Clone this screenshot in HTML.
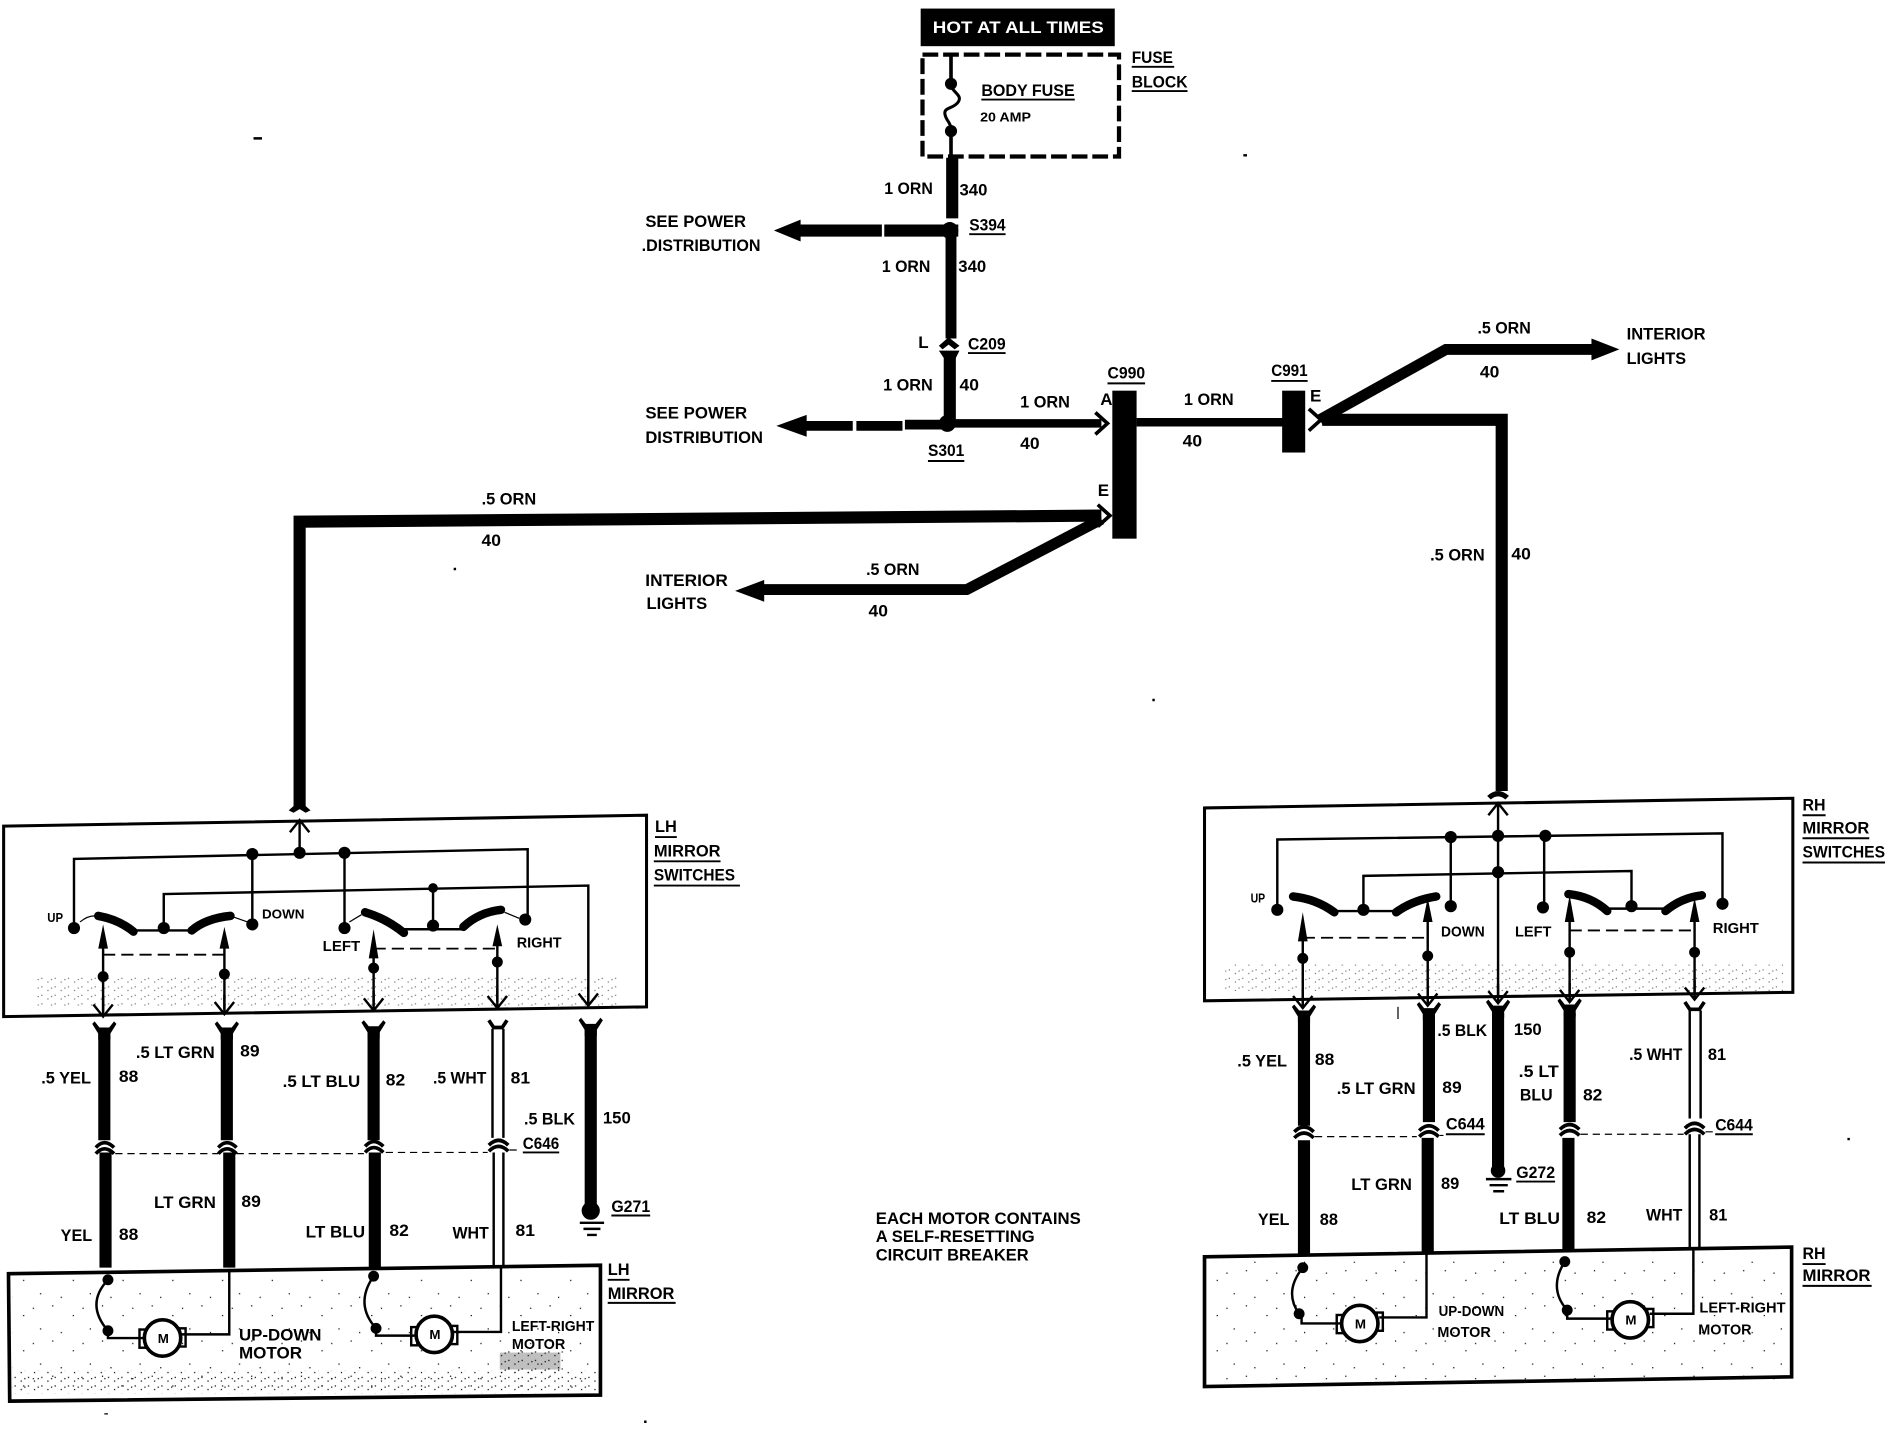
<!DOCTYPE html>
<html><head><meta charset="utf-8"><style>
html,body{margin:0;padding:0;background:#fff;width:1902px;height:1440px;overflow:hidden}
svg{display:block}
text{font-family:"Liberation Sans",sans-serif;font-weight:bold;font-size:14px;fill:#000}
.s{font-size:11px}
.th{fill:none;stroke:#000;stroke-width:2}
.w{fill:none;stroke:#000;stroke-width:10}
.w9{fill:none;stroke:#000;stroke-width:9}
.m{fill:none;stroke:#000;stroke-width:7}
.b{fill:none;stroke:#000;stroke-width:7;stroke-linecap:round}
.c{fill:none;stroke:#000;stroke-width:2}
.u{stroke:#000;stroke-width:1.6}
.d{fill:none;stroke:#000;stroke-width:1.5;stroke-dasharray:10 5}
.ar{fill:none;stroke:#000;stroke-width:3}
</style></head><body>
<svg width="1902" height="1440" viewBox="0 0 1568 1187" xmlns="http://www.w3.org/2000/svg">
<defs>
<pattern id="sp" width="41" height="29" patternUnits="userSpaceOnUse">
<rect x="2" y="3" width="1" height="1"/><rect x="19" y="11" width="1" height="1"/><rect x="33" y="22" width="1" height="1"/><rect x="9" y="25" width="1" height="1"/><rect x="27" y="5" width="1" height="1"/>
</pattern>
<pattern id="sp2" width="11" height="7" patternUnits="userSpaceOnUse">
<rect x="1" y="1" width="1" height="1"/><rect x="6" y="4" width="1" height="1"/><rect x="9" y="2" width="1" height="1"/>
</pattern>
<g id="ch"><path class="c" d="M-8,-8 L0,2 L8,-8 M0,2 V-14"/></g>
<g id="rc"><path d="M-8,-7 L-4,-2 H4 L8,-7 L10,-5 L5,3 V8 H-5 V3 L-10,-5Z"/></g>
</defs>

<!-- top -->
<rect x="759" y="7" width="160" height="31"/>
<text x="769" y="27" style="fill:#fff" textLength="141" lengthAdjust="spacingAndGlyphs">HOT AT ALL TIMES</text>
<rect x="760.500" y="45" width="162" height="84" fill="none" stroke="#000" stroke-width="3.500" stroke-dasharray="13 4"/>
<path class="th" style="stroke-width:3" d="M784,46 V66 M784,108 V130"/>
<path fill="none" stroke="#000" stroke-width="2.500" d="M784,69 C784,76 794,78 790,84 C786,90 778,88 779,94 C780,100 784,100 784,108"/>
<circle cx="784" cy="69" r="5"/><circle cx="784" cy="108" r="5"/>
<text x="809" y="79" textLength="77" lengthAdjust="spacingAndGlyphs">BODY FUSE</text><line class="u" x1="809" y1="82" x2="886" y2="82"/>
<text class="s" x="808" y="100" textLength="42" lengthAdjust="spacingAndGlyphs">20 AMP</text>
<text x="933" y="52" textLength="34" lengthAdjust="spacingAndGlyphs">FUSE</text><line class="u" x1="933" y1="55" x2="968" y2="55"/>
<text x="933" y="72" textLength="46" lengthAdjust="spacingAndGlyphs">BLOCK</text><line class="u" x1="933" y1="75" x2="979" y2="75"/>

<path class="w" d="M785,130 V180"/>
<path class="w" style="stroke-dasharray:70 2" d="M657,190 H790"/>
<path d="M638,190 L660,181 V199Z"/>
<circle cx="783" cy="190" r="7"/>
<path class="w9" d="M784,190 V279"/>
<text x="729" y="160" textLength="40" lengthAdjust="spacingAndGlyphs">1 ORN</text>
<text x="791" y="161" textLength="23" lengthAdjust="spacingAndGlyphs">340</text>
<text x="799" y="190" textLength="30" lengthAdjust="spacingAndGlyphs">S394</text><line class="u" x1="799" y1="193" x2="829" y2="193"/>
<text x="727" y="224" textLength="40" lengthAdjust="spacingAndGlyphs">1 ORN</text>
<text x="790" y="224" textLength="23" lengthAdjust="spacingAndGlyphs">340</text>
<text x="532" y="187" textLength="83" lengthAdjust="spacingAndGlyphs">SEE POWER</text>
<text x="529" y="207" textLength="98" lengthAdjust="spacingAndGlyphs">.DISTRIBUTION</text>

<path d="M774,285 L782,278 L791,285 L787,288 L782,284 L777,288Z"/>
<path d="M774,289 H791 L788,295 V349 H778 V295Z"/>
<text x="757" y="287" textLength="9">L</text>
<text x="798" y="288" textLength="31" lengthAdjust="spacingAndGlyphs">C209</text><line class="u" x1="798" y1="291" x2="829" y2="291"/>
<text x="728" y="322" textLength="41" lengthAdjust="spacingAndGlyphs">1 ORN</text>
<text x="791" y="322" textLength="16" lengthAdjust="spacingAndGlyphs">40</text>

<path stroke="#000" stroke-width="8" fill="none" d="M660,351 H703 M706,351 H744 M746,350 H782"/>
<path class="m" d="M780,349 H908"/>
<path d="M640,351 L665,342 V360Z"/>
<circle cx="781" cy="349" r="7"/>
<path class="ar" d="M903,340 L913,349 L903,358"/>
<text x="841" y="336" textLength="41" lengthAdjust="spacingAndGlyphs">1 ORN</text>
<text x="841" y="370" textLength="16" lengthAdjust="spacingAndGlyphs">40</text>
<text x="532" y="345" textLength="84" lengthAdjust="spacingAndGlyphs">SEE POWER</text>
<text x="532" y="365" textLength="97" lengthAdjust="spacingAndGlyphs">DISTRIBUTION</text>
<text x="765" y="376" textLength="30" lengthAdjust="spacingAndGlyphs">S301</text><line class="u" x1="765" y1="380" x2="795" y2="380"/>
<text x="907" y="334" textLength="9">A</text>

<rect x="917" y="322" width="20" height="122"/>
<text x="913" y="312" textLength="31" lengthAdjust="spacingAndGlyphs">C990</text><line class="u" x1="913" y1="316" x2="944" y2="316"/>
<path class="m" d="M937,348 H1058"/>
<text x="976" y="334" textLength="41" lengthAdjust="spacingAndGlyphs">1 ORN</text>
<text x="975" y="368" textLength="16" lengthAdjust="spacingAndGlyphs">40</text>
<rect x="1057" y="322" width="19" height="51"/>
<text x="1048" y="310" textLength="30" lengthAdjust="spacingAndGlyphs">C991</text><line class="u" x1="1048" y1="314" x2="1078" y2="314"/>
<text x="1080" y="331" textLength="9">E</text>
<path class="ar" d="M1079,337 L1089,346 L1079,355"/>
<path class="w" d="M1090,346 H1238 V652"/>
<path class="w9" d="M1088,346 L1192,288 H1320"/>
<path d="M1335,288 L1312,279 V297Z"/>
<text x="1218" y="275" textLength="44" lengthAdjust="spacingAndGlyphs">.5 ORN</text>
<text x="1220" y="311" textLength="16" lengthAdjust="spacingAndGlyphs">40</text>
<text x="1341" y="280" textLength="65" lengthAdjust="spacingAndGlyphs">INTERIOR</text>
<text x="1341" y="300" textLength="49" lengthAdjust="spacingAndGlyphs">LIGHTS</text>
<text x="1179" y="462" textLength="45" lengthAdjust="spacingAndGlyphs">.5 ORN</text>
<text x="1246" y="461" textLength="16" lengthAdjust="spacingAndGlyphs">40</text>

<text x="905" y="409" textLength="9">E</text>
<path class="ar" d="M905,416 L915,425 L905,434"/>
<path class="w" d="M908,425 L247,430 V665"/>
<path class="w9" d="M908,428 L797,486 H625"/>
<path d="M606,487 L630,478 V496Z"/>
<text x="397" y="416" textLength="45" lengthAdjust="spacingAndGlyphs">.5 ORN</text>
<text x="397" y="450" textLength="16" lengthAdjust="spacingAndGlyphs">40</text>
<text x="714" y="474" textLength="44" lengthAdjust="spacingAndGlyphs">.5 ORN</text>
<text x="716" y="508" textLength="16" lengthAdjust="spacingAndGlyphs">40</text>
<text x="532" y="483" textLength="68" lengthAdjust="spacingAndGlyphs">INTERIOR</text>
<text x="533" y="502" textLength="50" lengthAdjust="spacingAndGlyphs">LIGHTS</text>

<!-- LH switch box -->
<polygon points="3,681 533,672 533,830 3,838" fill="none" stroke="#000" stroke-width="2.500"/>
<rect x="30" y="805" width="480" height="24" fill="url(#sp2)" opacity=".55"/>
<path d="M238,668 L247,660 L256,668 L252,670 L247,667 L242,670Z"/>
<path class="c" d="M239,686 L247,676 L255,686 M247,676 V703"/>
<path class="th" d="M61,765 V708 L435,700 V758 M208,704 V762 M284,703 V765"/>
<path class="th" d="M135,765 V737 L485,730 V826 M357,732 V763"/>
<g>
<circle cx="208" cy="704" r="5"/><circle cx="247" cy="703" r="5"/><circle cx="284" cy="703" r="5"/><circle cx="357" cy="732" r="4"/>
<circle cx="61" cy="765" r="5"/><circle cx="135" cy="765" r="5"/><circle cx="208" cy="762" r="5"/><circle cx="284" cy="765" r="5"/><circle cx="357" cy="763" r="5"/><circle cx="433" cy="758" r="5"/>
</g>
<path class="b" d="M81,755 Q98,758 110,768"/><path class="b" d="M158,767 Q170,757 190,755"/>
<path class="b" d="M301,752 Q318,757 333,769"/><path class="b" d="M382,764 Q395,752 413,750"/>
<path class="th" d="M110,767 H158 M333,766 H382"/>
<path class="th" style="stroke-width:1" d="M66,760 Q72,755 78,755 M190,755 L204,760 M288,760 L298,754 M416,752 L428,757"/>
<path d="M85,762 L89,782 H81Z M185,764 L189,782 H181Z M308,766 L312,790 H304Z M410,762 L414,780 H406Z"/>
<path class="th" d="M85,780 V834 M185,780 V832 M308,780 V829 M410,770 V826"/>
<circle cx="85" cy="805" r="4.500"/><circle cx="185" cy="803" r="4.500"/><circle cx="308" cy="798" r="4.500"/><circle cx="410" cy="793" r="4.500"/>
<path class="d" d="M85,787 H185 M308,782 H410"/>
<use href="#ch" x="85" y="836"/><use href="#ch" x="185" y="834"/><use href="#ch" x="308" y="831"/><use href="#ch" x="410" y="829"/><use href="#ch" x="485" y="827"/>
<text class="s" x="39" y="760" textLength="13" lengthAdjust="spacingAndGlyphs">UP</text>
<text class="s" x="216" y="757" textLength="35" lengthAdjust="spacingAndGlyphs">DOWN</text>
<text x="266" y="784" style="font-size:12px" textLength="31" lengthAdjust="spacingAndGlyphs">LEFT</text>
<text x="426" y="781" style="font-size:12px" textLength="37" lengthAdjust="spacingAndGlyphs">RIGHT</text>
<text x="540" y="686" textLength="18" lengthAdjust="spacingAndGlyphs">LH</text><line class="u" x1="540" y1="690" x2="558" y2="690"/>
<text x="539" y="706" textLength="55" lengthAdjust="spacingAndGlyphs">MIRROR</text><line class="u" x1="539" y1="710" x2="594" y2="710"/>
<text x="539" y="726" textLength="67" lengthAdjust="spacingAndGlyphs">SWITCHES</text><line class="u" x1="539" y1="730" x2="610" y2="730"/>

<!-- LH wires -->
<path class="w" d="M86,848 V940 M187,848 V940 M308,848 V940 M487,848 V996 M87,950 V1045 M189,950 V1045 M309,950 V1045"/>
<use href="#rc" x="86" y="849"/><use href="#rc" x="187" y="849"/><use href="#rc" x="308" y="848"/><use href="#rc" x="487" y="846"/>
<path class="c" d="M406,848 V938 M415,848 V938 M407,950 V1044 M415,950 V1044"/>
<path class="c" style="stroke-width:3" d="M403,841 L407,847 H414 L418,841"/>
<g fill="none" stroke="#000" stroke-width="3">
<path d="M79,946 Q86,938 94,946 M79,951 Q86,943 94,951 M180,946 Q187,938 195,946 M180,951 Q187,943 195,951 M301,945 Q308,937 316,945 M301,950 Q308,942 316,950 M403,944 Q411,936 419,944 M403,949 Q411,941 419,949"/>
</g>
<path class="d" style="stroke-width:1;stroke-dasharray:6 4" d="M95,951 H180 M195,951 H300 M318,950 H402 M420,948 H430"/>
<circle cx="487" cy="998" r="7.500"/>
<path class="c" d="M478,1008 H498 M481,1013 H495 M484,1018 H492"/>
<text x="34" y="893" textLength="41" lengthAdjust="spacingAndGlyphs">.5 YEL</text><text x="98" y="892" textLength="16" lengthAdjust="spacingAndGlyphs">88</text>
<text x="112" y="872" textLength="65" lengthAdjust="spacingAndGlyphs">.5 LT GRN</text><text x="198" y="871" textLength="16" lengthAdjust="spacingAndGlyphs">89</text>
<text x="233" y="896" textLength="64" lengthAdjust="spacingAndGlyphs">.5 LT BLU</text><text x="318" y="895" textLength="16" lengthAdjust="spacingAndGlyphs">82</text>
<text x="357" y="893" textLength="44" lengthAdjust="spacingAndGlyphs">.5 WHT</text><text x="421" y="893" textLength="16" lengthAdjust="spacingAndGlyphs">81</text>
<text x="432" y="927" textLength="42" lengthAdjust="spacingAndGlyphs">.5 BLK</text><text x="497" y="926" textLength="23" lengthAdjust="spacingAndGlyphs">150</text>
<text x="431" y="947" textLength="30" lengthAdjust="spacingAndGlyphs">C646</text><line class="u" x1="431" y1="950" x2="461" y2="950"/>
<text x="504" y="999" textLength="32" lengthAdjust="spacingAndGlyphs">G271</text><line class="u" x1="504" y1="1002" x2="536" y2="1002"/>
<text x="50" y="1023" textLength="26" lengthAdjust="spacingAndGlyphs">YEL</text><text x="98" y="1022" textLength="16" lengthAdjust="spacingAndGlyphs">88</text>
<text x="127" y="996" textLength="51" lengthAdjust="spacingAndGlyphs">LT GRN</text><text x="199" y="995" textLength="16" lengthAdjust="spacingAndGlyphs">89</text>
<text x="252" y="1020" textLength="49" lengthAdjust="spacingAndGlyphs">LT BLU</text><text x="321" y="1019" textLength="16" lengthAdjust="spacingAndGlyphs">82</text>
<text x="373" y="1021" textLength="30" lengthAdjust="spacingAndGlyphs">WHT</text><text x="425" y="1019" textLength="16" lengthAdjust="spacingAndGlyphs">81</text>

<!-- LH mirror -->
<polygon points="7,1050 495,1043 495,1150 8,1155" fill="none" stroke="#000" stroke-width="3"/>
<rect x="10" y="1053" width="482" height="95" fill="url(#sp)"/>
<rect x="10" y="1130" width="482" height="19" fill="url(#sp2)"/>
<rect x="412" y="1112" width="52" height="20" fill="url(#sp2)"/>
<rect x="412" y="1115" width="50" height="14" fill="#000" opacity=".25"/>
<path class="th" d="M189,1046 V1100 H150 M118,1103 H89 V1097"/>
<path class="th" d="M89,1055 Q70,1075 89,1097"/>
<circle cx="89" cy="1055" r="4.500"/><circle cx="89" cy="1097" r="4.500"/>
<rect x="115" y="1096" width="5" height="15" fill="none" stroke="#000" stroke-width="2"/><rect x="148" y="1095" width="5" height="15" fill="none" stroke="#000" stroke-width="2"/>
<circle cx="134" cy="1103" r="15" fill="#fff" stroke="#000" stroke-width="3"/>
<text class="s" x="130" y="1107" textLength="9">M</text>
<path class="th" d="M413,1044 V1098 H372 M342,1101 H310 V1095"/>
<path class="th" d="M308,1052 Q292,1075 310,1095"/>
<circle cx="308" cy="1052" r="4.500"/><circle cx="310" cy="1095" r="4.500"/>
<rect x="339" y="1094" width="5" height="15" fill="none" stroke="#000" stroke-width="2"/><rect x="372" y="1093" width="5" height="15" fill="none" stroke="#000" stroke-width="2"/>
<circle cx="358" cy="1100" r="15" fill="#fff" stroke="#000" stroke-width="3"/>
<text class="s" x="354" y="1104" textLength="9">M</text>
<text x="197" y="1105" textLength="68" lengthAdjust="spacingAndGlyphs">UP-DOWN</text>
<text x="197" y="1120" textLength="52" lengthAdjust="spacingAndGlyphs">MOTOR</text>
<text x="422" y="1097" style="font-size:12px" textLength="68" lengthAdjust="spacingAndGlyphs">LEFT-RIGHT</text>
<text x="422" y="1112" style="font-size:12px" textLength="44" lengthAdjust="spacingAndGlyphs">MOTOR</text>
<text x="501" y="1051" textLength="18" lengthAdjust="spacingAndGlyphs">LH</text><line class="u" x1="501" y1="1055" x2="519" y2="1055"/>
<text x="501" y="1071" textLength="55" lengthAdjust="spacingAndGlyphs">MIRROR</text><line class="u" x1="501" y1="1074" x2="557" y2="1074"/>

<text x="722" y="1009" textLength="169" lengthAdjust="spacingAndGlyphs">EACH MOTOR CONTAINS</text>
<text x="722" y="1024" textLength="131" lengthAdjust="spacingAndGlyphs">A SELF-RESETTING</text>
<text x="722" y="1039" textLength="126" lengthAdjust="spacingAndGlyphs">CIRCUIT BREAKER</text>

<!-- RH switch box -->
<polygon points="993,666 1478,658 1478,818 993,825" fill="none" stroke="#000" stroke-width="2.500"/>
<rect x="1010" y="795" width="460" height="22" fill="url(#sp2)" opacity=".55"/>
<path d="M1226,656 Q1235,648 1244,656 L1241,659 Q1235,654 1229,659Z"/>
<path class="c" d="M1227,672 L1235,662 L1243,672 M1235,662 V822"/>
<path class="th" d="M1053,750 V692 L1420,687 V745 M1196,690 V747 M1273,689 V748"/>
<path class="th" d="M1124,750 V722 L1345,718 V747"/>
<circle cx="1196" cy="690" r="5"/><circle cx="1235" cy="689" r="5"/><circle cx="1274" cy="689" r="5"/><circle cx="1235" cy="719" r="5"/>
<circle cx="1053" cy="750" r="5"/><circle cx="1124" cy="750" r="5"/><circle cx="1196" cy="747" r="5"/><circle cx="1272" cy="748" r="5"/><circle cx="1345" cy="747" r="5"/><circle cx="1420" cy="745" r="5"/>
<path class="b" d="M1066,739 Q1085,741 1100,752"/><path class="b" d="M1151,752 Q1165,742 1184,739"/>
<path class="b" d="M1293,737 Q1312,739 1325,751"/><path class="b" d="M1373,751 Q1386,740 1403,738"/>
<path class="th" d="M1100,751 H1151 M1325,749 H1373"/>
<path d="M1074,752 L1078,776 H1070Z M1177,740 L1181,760 H1173Z M1294,738 L1298,760 H1290Z M1397,740 L1401,760 H1393Z"/>
<path class="th" d="M1074,770 V828 M1177,755 V826 M1294,755 V823 M1397,755 V821"/>
<circle cx="1074" cy="790" r="4.500"/><circle cx="1177" cy="788" r="4.500"/><circle cx="1294" cy="785" r="4.500"/><circle cx="1397" cy="785" r="4.500"/>
<path class="d" d="M1074,773 H1177 M1294,767 H1397"/>
<use href="#ch" x="1074" y="829"/><use href="#ch" x="1177" y="827"/><use href="#ch" x="1235" y="825"/><use href="#ch" x="1294" y="824"/><use href="#ch" x="1397" y="822"/>
<text class="s" x="1031" y="744" textLength="12" lengthAdjust="spacingAndGlyphs">UP</text>
<text x="1188" y="772" style="font-size:12px" textLength="36" lengthAdjust="spacingAndGlyphs">DOWN</text>
<text x="1249" y="772" style="font-size:12px" textLength="30" lengthAdjust="spacingAndGlyphs">LEFT</text>
<text x="1412" y="769" style="font-size:12px" textLength="38" lengthAdjust="spacingAndGlyphs">RIGHT</text>
<text x="1486" y="668" textLength="19" lengthAdjust="spacingAndGlyphs">RH</text><line class="u" x1="1486" y1="672" x2="1505" y2="672"/>
<text x="1486" y="687" textLength="55" lengthAdjust="spacingAndGlyphs">MIRROR</text><line class="u" x1="1486" y1="691" x2="1541" y2="691"/>
<text x="1486" y="707" textLength="68" lengthAdjust="spacingAndGlyphs">SWITCHES</text><line class="u" x1="1486" y1="711" x2="1554" y2="711"/>

<!-- RH wires -->
<path class="w" d="M1075,835 V928 M1178,835 V925 M1235,835 V962 M1294,835 V925 M1075,940 V1034 M1177,938 V1032 M1293,938 V1031"/>
<use href="#rc" x="1075" y="835"/><use href="#rc" x="1178" y="833"/><use href="#rc" x="1235" y="831"/><use href="#rc" x="1294" y="830"/>
<path class="c" d="M1393,833 V922 M1402,833 V922 M1393,935 V1030 M1401,935 V1030"/>
<path class="c" style="stroke-width:3" d="M1389,826 L1393,832 H1401 L1405,826"/>
<g fill="none" stroke="#000" stroke-width="3">
<path d="M1067,933 Q1075,925 1083,933 M1067,938 Q1075,930 1083,938 M1170,932 Q1178,924 1186,932 M1170,937 Q1178,929 1186,937 M1286,931 Q1294,923 1302,931 M1286,936 Q1294,928 1302,936 M1389,930 Q1397,922 1405,930 M1389,935 Q1397,927 1405,935"/>
</g>
<path class="d" style="stroke-width:1;stroke-dasharray:6 4" d="M1084,937 H1168 M1187,936 H1190 M1303,935 H1388 M1406,933 H1413"/>
<circle cx="1235" cy="965" r="6"/>
<path class="c" d="M1225,972 H1246 M1228,977 H1243 M1231,982 H1240"/>
<text x="1020" y="879" textLength="41" lengthAdjust="spacingAndGlyphs">.5 YEL</text><text x="1084" y="878" textLength="16" lengthAdjust="spacingAndGlyphs">88</text>
<text x="1102" y="902" textLength="65" lengthAdjust="spacingAndGlyphs">.5 LT GRN</text><text x="1189" y="901" textLength="16" lengthAdjust="spacingAndGlyphs">89</text>
<text x="1185" y="854" textLength="41" lengthAdjust="spacingAndGlyphs">.5 BLK</text><text x="1248" y="853" textLength="23" lengthAdjust="spacingAndGlyphs">150</text>
<text x="1252" y="888" textLength="33" lengthAdjust="spacingAndGlyphs">.5 LT</text><text x="1253" y="907" textLength="27" lengthAdjust="spacingAndGlyphs">BLU</text><text x="1305" y="907" textLength="16" lengthAdjust="spacingAndGlyphs">82</text>
<text x="1343" y="874" textLength="44" lengthAdjust="spacingAndGlyphs">.5 WHT</text><text x="1408" y="874" textLength="15" lengthAdjust="spacingAndGlyphs">81</text>
<text x="1192" y="931" textLength="32" lengthAdjust="spacingAndGlyphs">C644</text><line class="u" x1="1192" y1="935" x2="1224" y2="935"/>
<text x="1414" y="932" textLength="31" lengthAdjust="spacingAndGlyphs">C644</text><line class="u" x1="1414" y1="935" x2="1445" y2="935"/>
<text x="1250" y="971" textLength="32" lengthAdjust="spacingAndGlyphs">G272</text><line class="u" x1="1250" y1="974" x2="1282" y2="974"/>
<text x="1114" y="981" textLength="50" lengthAdjust="spacingAndGlyphs">LT GRN</text><text x="1188" y="980" textLength="15" lengthAdjust="spacingAndGlyphs">89</text>
<text x="1037" y="1010" textLength="26" lengthAdjust="spacingAndGlyphs">YEL</text><text x="1088" y="1010" textLength="15" lengthAdjust="spacingAndGlyphs">88</text>
<text x="1236" y="1009" textLength="50" lengthAdjust="spacingAndGlyphs">LT BLU</text><text x="1308" y="1008" textLength="16" lengthAdjust="spacingAndGlyphs">82</text>
<text x="1357" y="1006" textLength="30" lengthAdjust="spacingAndGlyphs">WHT</text><text x="1409" y="1006" textLength="15" lengthAdjust="spacingAndGlyphs">81</text>

<!-- RH mirror -->
<polygon points="993,1036 1477,1028 1477,1135 993,1143" fill="none" stroke="#000" stroke-width="3"/>
<rect x="997" y="1040" width="476" height="98" fill="url(#sp)"/>
<path class="th" d="M1176,1032 V1086 H1137 M1105,1091 H1073 V1083"/>
<path class="th" d="M1074,1045 Q1058,1065 1071,1083"/>
<circle cx="1074" cy="1045" r="4.500"/><circle cx="1071" cy="1083" r="4.500"/>
<rect x="1102" y="1084" width="5" height="15" fill="none" stroke="#000" stroke-width="2"/><rect x="1135" y="1082" width="5" height="15" fill="none" stroke="#000" stroke-width="2"/>
<circle cx="1121" cy="1091" r="15" fill="#fff" stroke="#000" stroke-width="3"/>
<text class="s" x="1117" y="1095" textLength="9">M</text>
<path class="th" d="M1396,1030 V1083 H1360 M1328,1087 H1292 V1080"/>
<path class="th" d="M1290,1040 Q1276,1062 1292,1080"/>
<circle cx="1290" cy="1040" r="4.500"/><circle cx="1292" cy="1080" r="4.500"/>
<rect x="1325" y="1081" width="5" height="15" fill="none" stroke="#000" stroke-width="2"/><rect x="1358" y="1079" width="5" height="15" fill="none" stroke="#000" stroke-width="2"/>
<circle cx="1344" cy="1088" r="15" fill="#fff" stroke="#000" stroke-width="3"/>
<text class="s" x="1340" y="1092" textLength="9">M</text>
<text x="1186" y="1085" style="font-size:12px" textLength="54" lengthAdjust="spacingAndGlyphs">UP-DOWN</text>
<text x="1185" y="1102" style="font-size:12px" textLength="44" lengthAdjust="spacingAndGlyphs">MOTOR</text>
<text x="1401" y="1082" style="font-size:12px" textLength="71" lengthAdjust="spacingAndGlyphs">LEFT-RIGHT</text>
<text x="1400" y="1100" style="font-size:12px" textLength="44" lengthAdjust="spacingAndGlyphs">MOTOR</text>
<text x="1486" y="1038" textLength="19" lengthAdjust="spacingAndGlyphs">RH</text><line class="u" x1="1486" y1="1042" x2="1505" y2="1042"/>
<text x="1486" y="1056" textLength="56" lengthAdjust="spacingAndGlyphs">MIRROR</text><line class="u" x1="1486" y1="1060" x2="1543" y2="1060"/>

<!-- stray specks -->
<path d="M209,113 h7 v2 h-7z M1025,127 h3 v2 h-3z M950,576 h2 v2 h-2z M374,468 h2 v2 h-2z M1523,938 h2 v2 h-2z M531,1171 h2 v2 h-2z M86,1165 h3 v1 h-3z M1152,830 h1 v10 h-1z"/>
</svg>
</body></html>
